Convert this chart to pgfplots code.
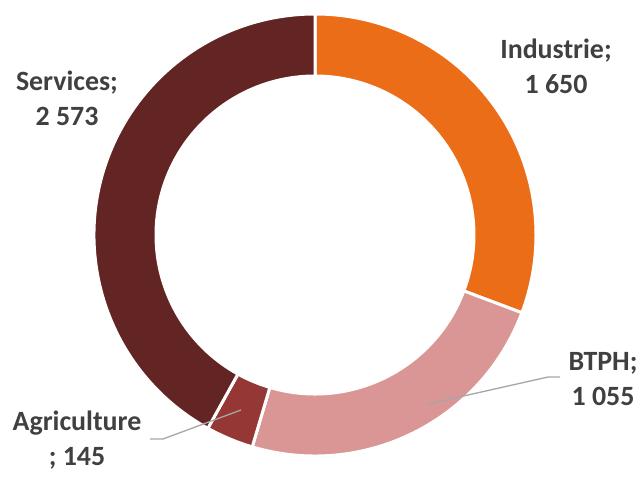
\documentclass[border=0pt]{standalone}
\usepackage{pgfplots}
\pgfplotsset{compat=1.18}
\usepackage{fontspec}
\setmainfont{Carlito}

\definecolor{indus}{HTML}{EC6D17}
\definecolor{btph}{HTML}{DA9694}
\definecolor{agri}{HTML}{953735}
\definecolor{serv}{HTML}{632523}
\definecolor{txt}{HTML}{404040}
\definecolor{lead}{HTML}{A6A6A6}

\tikzset{lab/.style={font=\bfseries\fontsize{28}{35}\selectfont, text=txt, align=center}}

% ring radii (bp)
\def\Ro{221}
\def\Ri{159}
% slice: start angle, end angle, colour
\newcommand\slice[3]{%
  \fill[#3, draw=white, line width=3bp]
    (axis cs:{\Ro*cos(#1)},{\Ro*sin(#1)})
    arc[start angle=#1, end angle=#2, radius=\Ro bp]
    -- (axis cs:{\Ri*cos(#2)},{\Ri*sin(#2)})
    arc[start angle=#2, end angle=#1, radius=\Ri bp] -- cycle;}

\begin{document}
\begin{tikzpicture}
\begin{axis}[
  x=1bp, y=1bp,
  xmin=-315, xmax=329,
  ymin=-235, ymax=235,
  hide axis, clip=false,
]
\path (axis cs:-315,-235) rectangle (axis cs:329,235);
% slices in degrees, clockwise from the top
% Industrie 1650, BTPH 1055, Agriculture 145, Services 2573
\slice{90}{-20.6}{indus}
\slice{-20.6}{-106.5}{btph}
\slice{-106.5}{-119}{agri}
\slice{-119}{-270}{serv}

\addplot[lead, line width=1.3bp] coordinates {(245,-142) (233,-142) (113,-169)};
\addplot[lead, line width=1.3bp] coordinates {(-165,-204) (-152,-204) (-74,-175)};

\node[lab] at (axis cs:241,169) {Industrie;\\1 650};
\node[lab] at (axis cs:-248,137) {Services;\\2 573};
\node[lab] at (axis cs:288,-144) {BTPH;\\1 055};
\node[lab] at (axis cs:-238,-205) {Agriculture\\; 145};
\end{axis}
\end{tikzpicture}
\end{document}
